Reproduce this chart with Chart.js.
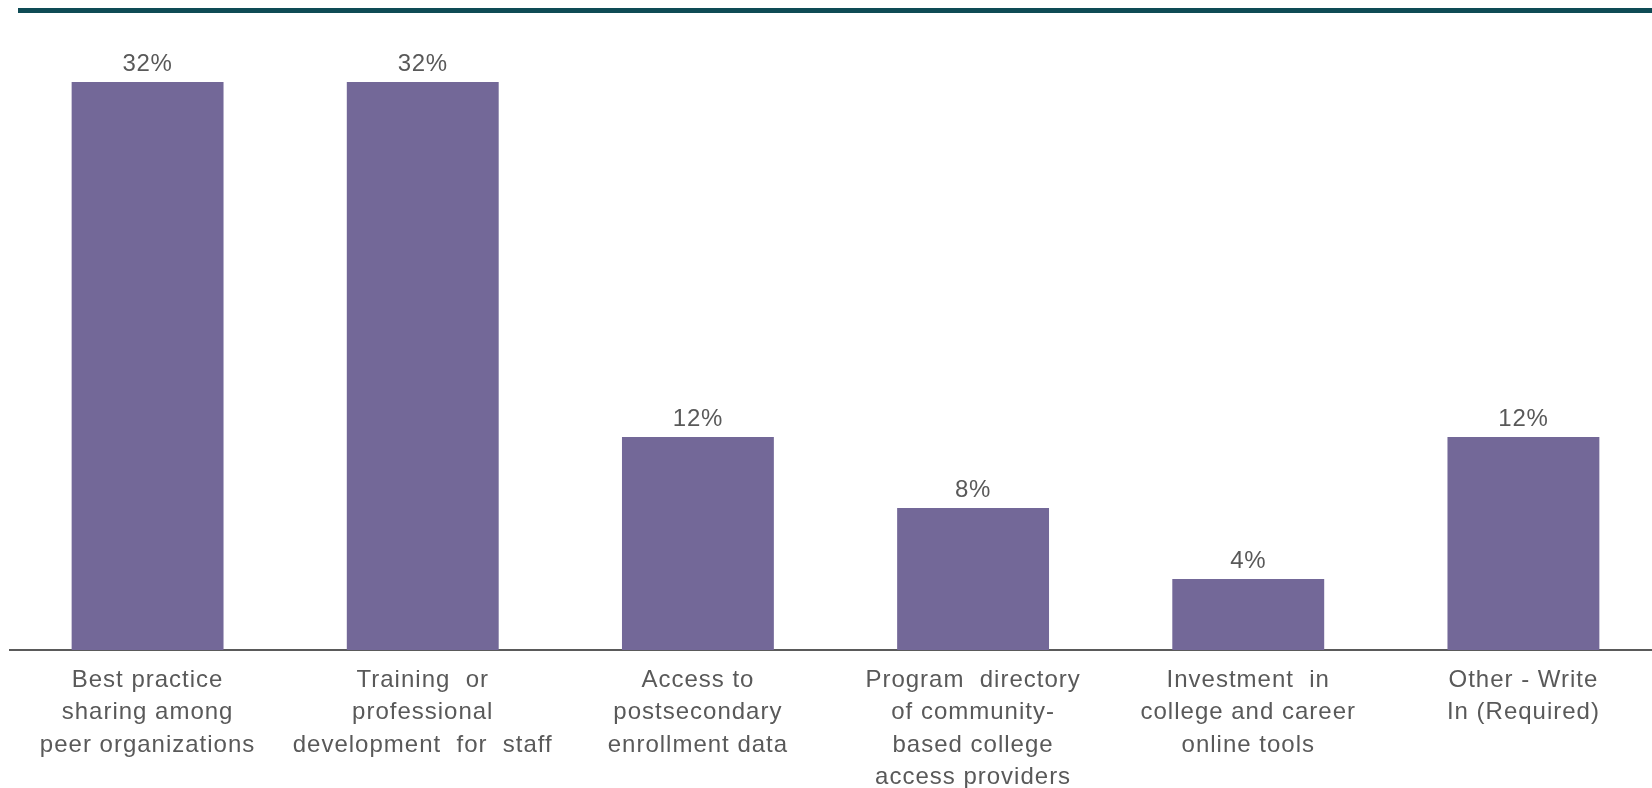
<!DOCTYPE html>
<html>
<head>
<meta charset="utf-8">
<script src="https://cdn.jsdelivr.net/npm/chart.js@4/dist/chart.umd.min.js"></script>
<style>
  html, body { margin: 0; padding: 0; background: #ffffff; overflow: hidden; }
  #wrap { position: relative; width: 1652px; height: 788px; overflow: hidden; }
  #band { position: absolute; left: 18px; right: 0; top: 8px; height: 5px; background: #0e4b55; }
  #cv { position: absolute; left: 0; top: 0; }
</style>
</head>
<body>
<div id="wrap">
  <div id="band"></div>
  <canvas id="cv" width="1670" height="788" style="width:1670px;height:788px"></canvas>
</div>
<script>
const categories = [
  ["Best practice", "sharing among", "peer organizations"],
  ["Training  or", "professional", "development  for  staff"],
  ["Access to", "postsecondary", "enrollment data"],
  ["Program  directory", "of community-", "based college", "access providers"],
  ["Investment  in", "college and career", "online tools"],
  ["Other - Write", "In (Required)"]
];
const shares = [32, 32, 12, 8, 4, 12];

const textGrey = '#595959';
const font = "'Liberation Sans', Arial, sans-serif";

// slightly looser tracking for all text on the canvas
const tracking = {
  id: 'tracking',
  beforeDraw(chart) {
    chart.ctx.letterSpacing = '1px';
  }
};

// percent labels above each bar
const valueLabels = {
  id: 'valueLabels',
  afterDatasetsDraw(chart) {
    const ctx = chart.ctx;
    const meta = chart.getDatasetMeta(0);
    ctx.save();
    ctx.letterSpacing = '0.7px';
    ctx.font = '24px ' + font;
    ctx.fillStyle = textGrey;
    ctx.textAlign = 'center';
    ctx.textBaseline = 'alphabetic';
    meta.data.forEach((bar, i) => {
      ctx.fillText(shares[i] + '%', bar.x, bar.y - 11);
    });
    ctx.restore();
  }
};

new Chart(document.getElementById('cv'), {
  type: 'bar',
  data: {
    labels: categories,
    datasets: [{
      data: shares,
      backgroundColor: '#736898',
      barPercentage: 0.552,
      categoryPercentage: 1
    }]
  },
  options: {
    responsive: false,
    animation: false,
    layout: { padding: { left: 10, right: 9, top: 11, bottom: 0 } },
    plugins: {
      legend: { display: false },
      tooltip: { enabled: false }
    },
    scales: {
      x: {
        grid: { display: false, drawTicks: false },
        border: { display: true, color: '#5a5a5a', width: 2 },
        ticks: {
          color: textGrey,
          font: { family: font, size: 24, lineHeight: 1.35 },
          padding: 14,
          autoSkip: false,
          maxRotation: 0,
          minRotation: 0
        },
        afterFit(scale) { scale.height = 138; }
      },
      y: {
        display: false,
        min: 0,
        max: 36
      }
    }
  },
  plugins: [tracking, valueLabels]
});
</script>
</body>
</html>
